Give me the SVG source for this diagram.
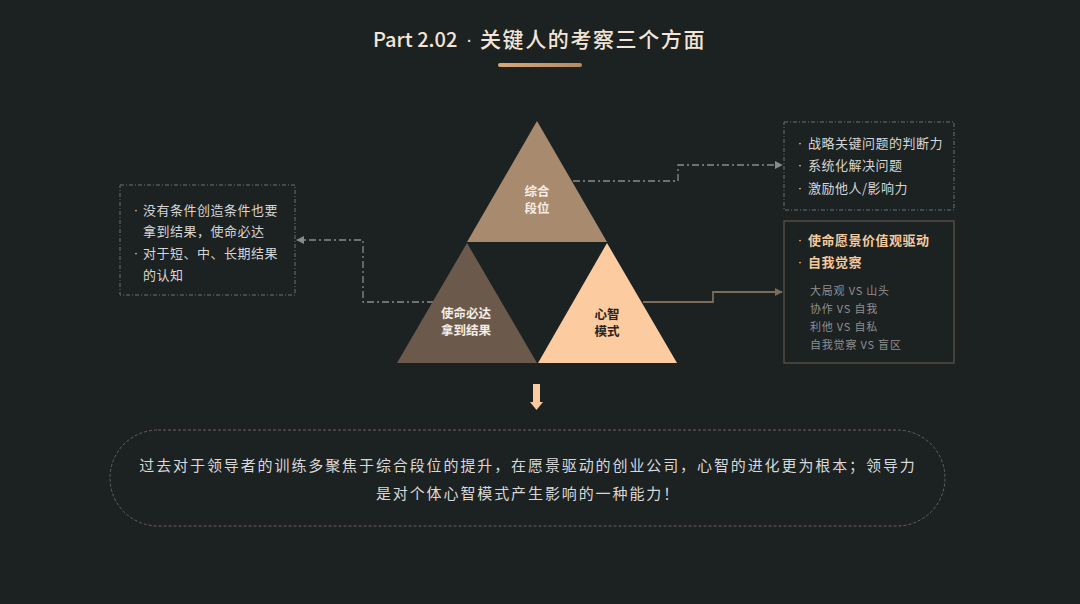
<svg xmlns="http://www.w3.org/2000/svg" width="1080" height="604" viewBox="0 0 1080 604">
<defs>
<style>
text{font-family:"Noto Sans CJK SC","Noto Sans",sans-serif;}
.t{fill:#d6d6d6;font-size:13px;letter-spacing:0.5px;}
.p{fill:#f6c99c;font-size:13px;letter-spacing:0.5px;font-weight:bold;}
.b{font-family:"Liberation Sans",Arial,sans-serif;font-size:13px;text-anchor:middle;}
.g{fill:#8f8f8f;font-size:11px;letter-spacing:0.8px;}
.dd{fill:none;stroke:#8a8a8a;stroke-width:1.3;stroke-dasharray:7 3 2 3;}
.box{fill:none;stroke:#6e6e6e;stroke-width:1;stroke-dasharray:4 2 1 2;}
.lbl{font-size:12.5px;text-anchor:middle;font-weight:bold;}
</style>
<linearGradient id="bar" x1="0" x2="1" y1="0" y2="0">
<stop offset="0" stop-color="#d8a878"/><stop offset="1" stop-color="#b58a62"/>
</linearGradient>
<marker id="ag" viewBox="0 0 10 10" refX="9" refY="5" markerWidth="8" markerHeight="8" orient="auto" markerUnits="userSpaceOnUse">
<path d="M0,0 L10,5 L0,10 z" fill="#8a8a8a"/>
</marker>
<marker id="ab" viewBox="0 0 10 10" refX="9" refY="5" markerWidth="8" markerHeight="8" orient="auto" markerUnits="userSpaceOnUse">
<path d="M0,0 L10,5 L0,10 z" fill="#7d6b5a"/>
</marker>
</defs>
<rect width="1080" height="604" fill="#1c2122"/>

<g id="title" fill="#f3e4d6" font-weight="500">
<text x="373" y="47" font-size="20">Part 2.02</text>
<text x="469" y="46" font-size="20" text-anchor="middle" style="font-family:'Liberation Sans',Arial,sans-serif">·</text>
<text x="480" y="47" font-size="21" letter-spacing="1.6">关键人的考察三个方面</text>
<rect x="498" y="63" width="84" height="4" rx="2" fill="url(#bar)"/>
</g>

<g id="connectors">
<path class="dd" d="M573,181 H678 V165 H782" marker-end="url(#ag)"/>
<path class="dd" d="M434,302 H363 V240 H297" marker-end="url(#ag)"/>
<path d="M643,302 H713 V292 H782" fill="none" stroke="#7d6b5a" stroke-width="1.8" marker-end="url(#ab)"/>
</g>

<g id="tri-top">
<polygon points="537,121 467,242 607,242" fill="#a88a6e"/>
<text class="lbl" x="537" y="196" fill="#f4ede6">综合</text>
<text class="lbl" x="537" y="213" fill="#f4ede6">段位</text>
</g>
<g id="tri-left">
<polygon points="467,243 397,363 537,363" fill="#6b5a4b"/>
<text class="lbl" x="466" y="318" fill="#f4ede6">使命必达</text>
<text class="lbl" x="466" y="335" fill="#f4ede6">拿到结果</text>
</g>
<g id="tri-right">
<polygon points="607,243 538,363 677,363" fill="#fdcba0"/>
<text class="lbl" x="607" y="319" fill="#2a2420">心智</text>
<text class="lbl" x="607" y="336" fill="#2a2420">模式</text>
</g>

<g id="box-left">
<rect class="box" x="120" y="185" width="175" height="110"/>
<text class="b" x="136" y="214" fill="#d6d6d6">·</text>
<text class="t" x="143" y="215">没有条件创造条件也要</text>
<text class="t" x="143" y="236">拿到结果，使命必达</text>
<text class="b" x="136" y="257" fill="#d6d6d6">·</text>
<text class="t" x="143" y="258">对于短、中、长期结果</text>
<text class="t" x="143" y="280">的认知</text>
</g>

<g id="box-top-right">
<rect class="box" x="784" y="122" width="170" height="88"/>
<text class="b" x="800" y="147" fill="#d6d6d6">·</text>
<text class="t" x="808" y="148">战略关键问题的判断力</text>
<text class="b" x="800" y="169" fill="#d6d6d6">·</text>
<text class="t" x="808" y="170">系统化解决问题</text>
<text class="b" x="800" y="192" fill="#d6d6d6">·</text>
<text class="t" x="808" y="193">激励他人/影响力</text>
</g>

<g id="box-bottom-right">
<rect x="784" y="221" width="170" height="142" fill="none" stroke="#5f554c" stroke-width="1.2"/>
<text class="b" x="800" y="244" fill="#f6c99c">·</text>
<text class="p" x="808" y="245">使命愿景价值观驱动</text>
<text class="b" x="800" y="266" fill="#f6c99c">·</text>
<text class="p" x="808" y="267">自我觉察</text>
<text class="g" x="810" y="295">大局观 VS 山头</text>
<text class="g" x="810" y="313">协作 VS 自我</text>
<text class="g" x="810" y="331">利他 VS 自私</text>
<text class="g" x="810" y="349">自我觉察 VS 盲区</text>
</g>

<g id="down-arrow">
<polygon points="533,384 540,384 540,402 543,402 536.5,410 530,402 533,402" fill="#fdcba0"/>
</g>

<g id="summary">
<rect x="110" y="430" width="835" height="96" rx="48" fill="none" stroke="#6a6058" stroke-width="1" stroke-dasharray="3 2"/>
<text x="528" y="471" text-anchor="middle" font-size="15" letter-spacing="1.9" fill="#d8d8d8">过去对于领导者的训练多聚焦于综合段位的提升，在愿景驱动的创业公司，心智的进化更为根本；领导力</text>
<text x="528" y="499" text-anchor="middle" font-size="15" letter-spacing="1.9" fill="#d8d8d8">是对个体心智模式产生影响的一种能力！</text>
</g>
</svg>
